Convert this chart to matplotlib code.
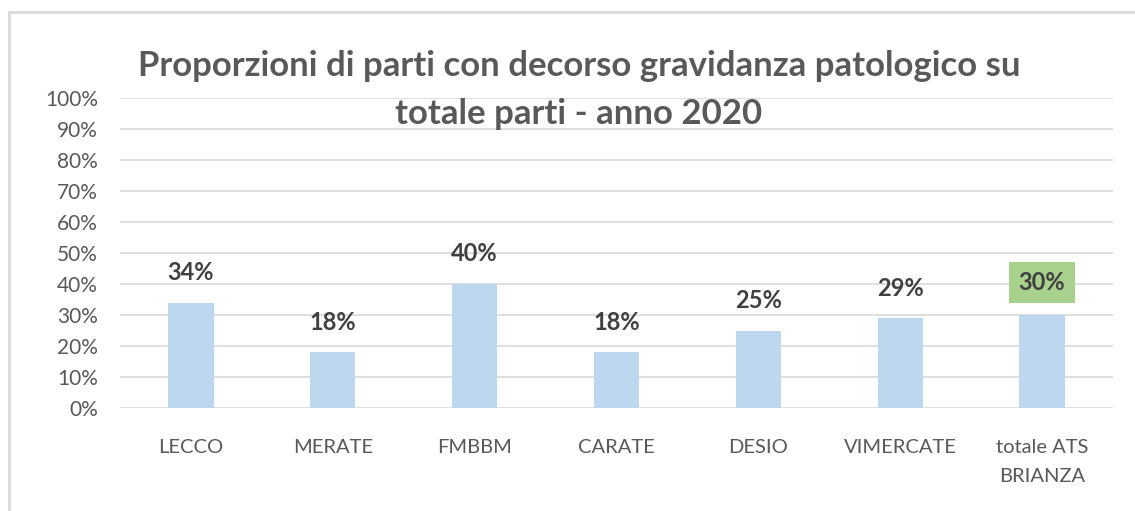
import matplotlib.pyplot as plt
from matplotlib.patches import Rectangle
from matplotlib.ticker import PercentFormatter

plt.rcParams['font.family'] = ['Lato', 'DejaVu Sans']

categories = ['LECCO', 'MERATE', 'FMBBM', 'CARATE', 'DESIO', 'VIMERCATE',
              'totale ATS\nBRIANZA']
values = [0.34, 0.18, 0.40, 0.18, 0.25, 0.29, 0.30]
labels = ['34%', '18%', '40%', '18%', '25%', '29%', '30%']
title = 'Proporzioni di parti con decorso gravidanza patologico su\ntotale parti - anno 2020'

W, H = 1135, 511
fig = plt.figure(figsize=(W / 100, H / 100), dpi=100)

# chart frame (light grey border, cut at right/bottom)
fig.patches.append(Rectangle((9 / W, -0.1), 1.2, 1 - 12 / H + 0.1,
                             transform=fig.transFigure, fill=False,
                             edgecolor='#d9d9d9', linewidth=2))

ax = fig.add_axes([120 / W, 1 - 408 / H, 993 / W, 310 / H])
x = range(len(categories))
ax.bar(x, values, width=0.32, color='#bdd7ee', zorder=2)
ax.set_ylim(0, 1)
ax.set_xlim(-0.5, len(categories) - 0.5)
ax.set_yticks([i / 10 for i in range(11)])
ax.yaxis.set_major_formatter(PercentFormatter(1.0, decimals=0))
ax.grid(axis='y', color='#d9d9d9', linewidth=1.2, zorder=0)
for s in ax.spines.values():
    s.set_visible(False)
ax.tick_params(axis='both', length=0, labelsize=15, colors='#595959')
ax.tick_params(axis='y', pad=16)
ax.tick_params(axis='x', pad=22, labelsize=14.5)
ax.set_xticks(list(x))
ax.set_xticklabels(categories, linespacing=1.9)

for i, (v, lab) in enumerate(zip(values, labels)):
    if i == len(values) - 1:
        ax.text(i, v + 0.105, lab, ha='center', va='center', fontsize=17,
                fontweight='bold', color='#404040', zorder=3,
                bbox=dict(boxstyle='square,pad=0.4', facecolor='#a9d18e',
                          edgecolor='none'))
    else:
        ax.text(i, v + 0.06, lab, ha='center', va='bottom', fontsize=17,
                fontweight='bold', color='#404040', zorder=3)

fig.text(0.51, 1 - 90 / H, title, ha='center', va='center', fontsize=25,
         fontweight='bold', color='#595959', linespacing=1.6)

fig.savefig('out.png', dpi=100)
